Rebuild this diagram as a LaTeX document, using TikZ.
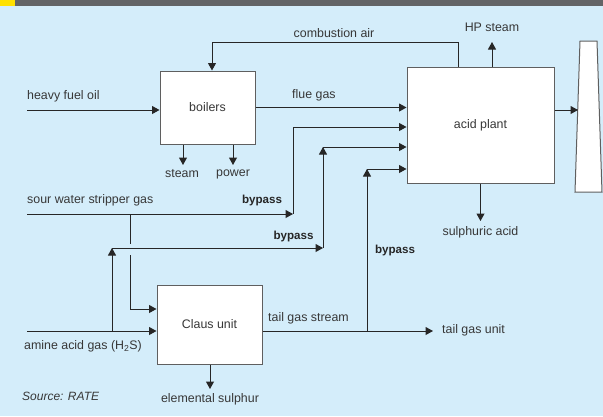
\documentclass[tikz,border=0pt]{standalone}
\usepackage{fontspec}
\setmainfont{Liberation Sans}
\usepackage{xcolor}
\usepackage{tikz}
\usetikzlibrary{arrows.meta}
\definecolor{fond}{RGB}{212,237,250}
\definecolor{bandeau}{RGB}{99,100,102}
\definecolor{jaune}{RGB}{255,225,0}
\definecolor{trait}{RGB}{38,38,38}
\definecolor{cadre}{RGB}{95,95,95}
\definecolor{texte}{RGB}{55,55,55}

\begin{document}
\begin{tikzpicture}[x=1pt, y=-1pt, font=\fontsize{12.4}{14}\selectfont,
  unite/.style={draw=cadre, fill=white, line width=1pt, inner sep=0pt, text=texte},
  etiq/.style={inner sep=0pt, text=texte},
  contourne/.style={inner sep=0pt, text=trait, font=\fontsize{11.6}{14}\selectfont\bfseries},
  flux/.style={draw=trait, line width=1pt, -{Triangle[length=7.5pt, width=8pt]}},
  conduite/.style={draw=trait, line width=1pt}]
  \useasboundingbox (0,0) rectangle (603,416);
  % Le fond et le bandeau du haut.
  \fill[fond] (0,0) rectangle (603,416);
  \fill[bandeau] (0,0) rectangle (603,6);
  \fill[jaune] (0,0) rectangle (15,6);
  % Les trois unités et la cheminée.
  \node[unite, minimum width=95pt, minimum height=73pt] (chaud) at (207.5,107.5) {boilers};
  \node[unite, minimum width=147pt, minimum height=116pt] (acide) at (480.5,125) {acid plant};
  \node[unite, minimum width=105pt, minimum height=79pt] (claus) at (209.5,324.5) {Claus unit};
  \filldraw[fill=white, draw=cadre, line width=1pt]
    (580,41) -- (597,41) -- (602,192) -- (575,192) -- cycle;
  % Les points d'entrée, de sortie et les coudes.
  \coordinate (fioul) at (27,110);
  \coordinate (eaux) at (27,214);
  \coordinate (amine) at (27,331);
  \coordinate (air) at (458,42);
  \coordinate (vapHP) at (492,42);
  \coordinate (vap) at (183,165);
  \coordinate (elec) at (233,165);
  \coordinate (sulf) at (480.5,221);
  \coordinate (soufre) at (210,389);
  \coordinate (cheminee) at (578,110);
  \coordinate (gazQueue) at (433,331);
  \coordinate (coude1) at (293,214);
  \coordinate (piqAmine) at (112,331);
  \coordinate (coude2a) at (112,248);
  \coordinate (coude2b) at (323,248);
  \coordinate (coude2c) at (323,147);
  \coordinate (piquage) at (367,331);
  \coordinate (coude3) at (367,169);
  \coordinate (piqEaux) at (130,214);
  \coordinate (saut1) at (130,244);
  \coordinate (saut2) at (130,255);
  % Chaudières et usine d'acide.
  \draw[flux] (fioul) -- (fioul -| chaud.west);
  \draw[flux] (chaud.east) -- (chaud.east -| acide.west);
  \draw[flux] (acide.north -| air) -- (air) -| ([xshift=4.5pt]chaud.north);
  \draw[flux] (acide.north -| vapHP) -- (vapHP);
  \draw[flux] (chaud.south -| vap) -- (vap);
  \draw[flux] (chaud.south -| elec) -- (elec);
  \draw[flux] (acide.south) -- (sulf);
  \draw[flux] (acide.east |- cheminee) -- (cheminee);
  % Les gaz acides et leurs contournements.
  \draw[flux] (eaux) -- (coude1);
  \draw[flux] (coude1) |- ([yshift=-2pt]acide.west);
  \draw[flux] (piqAmine) -- (coude2a);
  \draw[flux] (coude2a) -- (coude2b);
  \draw[flux] (coude2b) -- (coude2c);
  \draw[flux] (coude2c) -- (coude2c -| acide.west);
  \draw[conduite] (piqEaux) -- (saut1);
  \draw[flux] (saut2) |- ([yshift=15.5pt]claus.west);
  \draw[flux] (amine) -- (amine -| claus.west);
  \draw[flux] (claus.east |- amine) -- (gazQueue);
  \draw[flux] (piquage) -- (coude3);
  \draw[flux] (coude3) -- (coude3 -| acide.west);
  \draw[flux] (claus.south -| soufre) -- (soufre);
  % Les étiquettes.
  \node[etiq, anchor=west] (lFioul) at (27,96) {heavy fuel oil};
  \node[etiq, anchor=west] (lFumees) at (292,95) {flue gas};
  \node[etiq] (lAir) at (334,33) {combustion air};
  \node[etiq] (lVapHP) at (492,27) {HP steam};
  \node[etiq] (lVap) at (182,174) {steam};
  \node[etiq] (lElec) at (233,174) {power};
  \node[etiq, anchor=west] (lEaux) at (27,200) {sour water stripper gas};
  \node[contourne] (lBy1) at (262,200) {bypass};
  \node[contourne] (lBy2) at (293.5,236) {bypass};
  \node[contourne] (lBy3) at (395,250) {bypass};
  \node[etiq] (lSulf) at (480.5,232) {sulphuric acid};
  \node[etiq, anchor=west] (lQueue) at (268,318) {tail gas stream};
  \node[etiq, anchor=west] (lUnite) at (442,330) {tail gas unit};
  \node[etiq, anchor=west] (lAmine) at (24,346) {amine acid gas (H\textsubscript{2}S)};
  \node[etiq, anchor=west, font=\fontsize{12}{14}\selectfont\itshape] (lSource) at (22,396) {Source: RATE};
  \node[etiq] (lSoufre) at (210,399) {elemental sulphur};
\end{tikzpicture}
\end{document}
